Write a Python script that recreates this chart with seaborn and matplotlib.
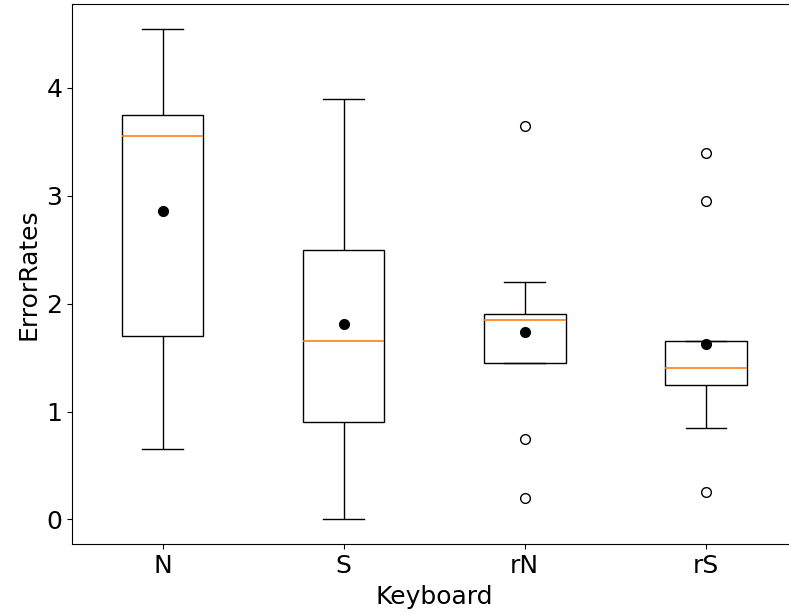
import numpy as np
import pandas as pd
import matplotlib
matplotlib.use("Agg")
import matplotlib.pyplot as plt
import seaborn as sns

keyboards = ["N", "S", "rN", "rS"]
err_N = [0.65, 1.20, 1.70, 2.60, 3.55, 3.60, 3.75, 4.14, 4.55]
err_S = [0.00, 0.50, 0.90, 1.20, 1.65, 2.10, 2.50, 3.54, 3.90]
err_rN = [0.20, 0.75, 1.45, 1.78, 1.85, 1.88, 1.90, 2.20, 3.65]
err_rS = [0.25, 0.85, 1.25, 1.32, 1.40, 1.60, 1.65, 2.95, 3.40]

df = pd.DataFrame({
    "Keyboard": np.repeat(keyboards, [len(err_N), len(err_S), len(err_rN), len(err_rS)]),
    "ErrorRates": err_N + err_S + err_rN + err_rS,
})

fig = plt.figure(figsize=(7.89, 6.15), dpi=100)
ax = fig.add_axes([72/789, 1-544/615, (796.5-72)/789, (544-4)/615])

sns.boxplot(
    data=df, x="Keyboard", y="ErrorRates", order=keyboards, ax=ax,
    width=0.45, color="white", linecolor="black", linewidth=1.0,
    showmeans=True, whis=1.5,
    medianprops=dict(color="#ff7f0e", linewidth=1.2),
    meanprops=dict(marker="o", markerfacecolor="black", markeredgecolor="black", markersize=7),
    flierprops=dict(marker="o", markerfacecolor="none", markeredgecolor="black", markersize=7),
)
ax.set_xlim(-0.5, 3.5)
ax.set_ylim(-0.2275, 4.7775)
ax.set_yticks([0, 1, 2, 3, 4])
ax.tick_params(labelsize=18)
ax.set_xlabel("Keyboard", fontsize=18, labelpad=5)
ax.set_ylabel("ErrorRates", fontsize=18)
fig.savefig("out.png", dpi=100)
